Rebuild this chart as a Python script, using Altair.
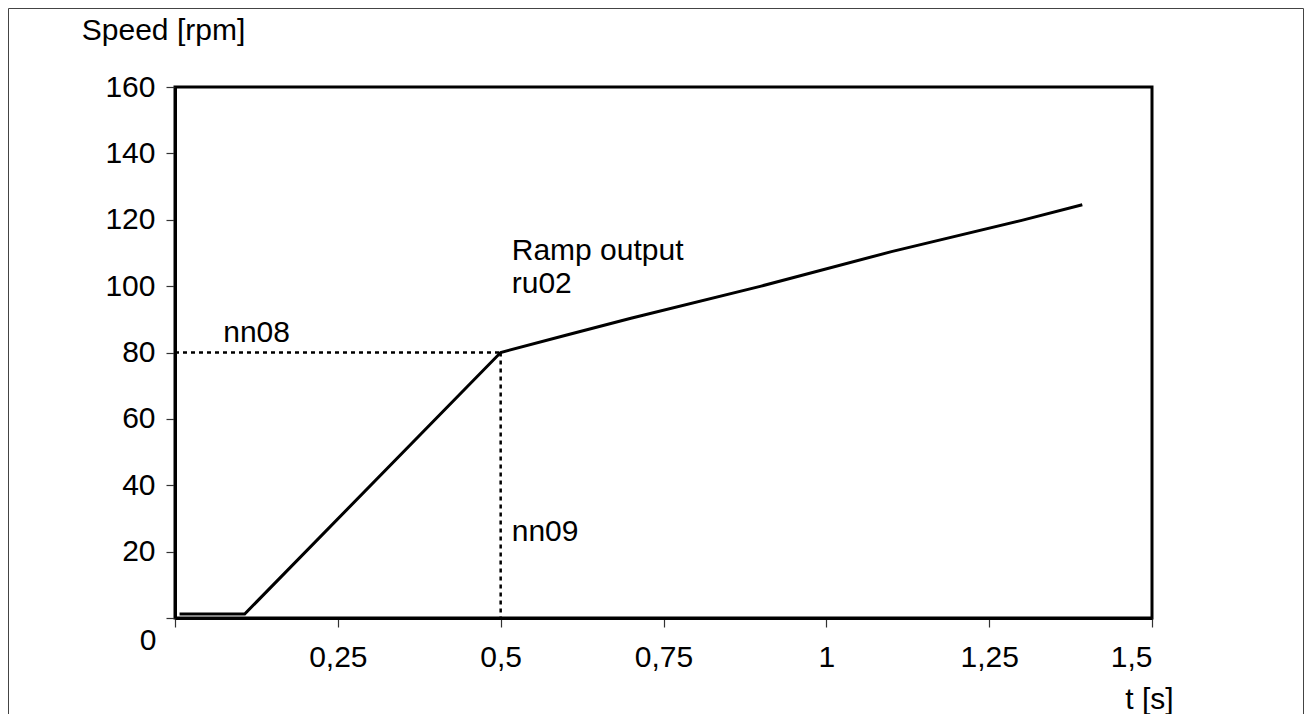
import altair as alt
import pandas as pd

# Ramp output ru02
t_vals = [0.007, 0.107, 0.5, 0.6, 0.7, 0.9, 1.1, 1.3, 1.393]
speed_vals = [1.2, 1.2, 80.0, 85.2, 90.3, 100.0, 110.4, 119.8, 124.5]

# dashed guide lines (nn08 / nn09)
guide_t = [0.0, 0.5, 0.5, 0.5]
guide_speed = [80.0, 80.0, 80.0, 0.0]
guide_id = ["h", "h", "v", "v"]

# annotations
ann_text = ["nn08", "nn09", "Ramp output", "ru02"]
ann_t = [0.074, 0.517, 0.517, 0.517]
ann_speed = [86.0, 25.8, 110.6, 100.6]

x_ticks = [0, 0.25, 0.5, 0.75, 1, 1.25, 1.5]
y_ticks = [0, 20, 40, 60, 80, 100, 120, 140, 160]

FONT = "Liberation Sans"
FS = 30
W, H = 977, 531

line_df = pd.DataFrame({"t": t_vals, "speed": speed_vals})
guide_df = pd.DataFrame({"t": guide_t, "speed": guide_speed, "g": guide_id})
ann_df = pd.DataFrame({"text": ann_text, "t": ann_t, "speed": ann_speed})
origin_df = pd.DataFrame({"t": [0.0], "speed": [0.0], "text": ["0"]})
frame_df = pd.DataFrame({"a": [0]})

xscale = alt.Scale(domain=[0, 1.5], nice=False, zero=False)
yscale = alt.Scale(domain=[0, 160], nice=False)

xaxis = alt.Axis(
    values=x_ticks, format="~g",
    labelExpr="datum.value == 0 ? '' : replace(datum.label, '.', ',')",
    title="t [s]", titleX=974, titleY=81, titleAlign="center", titleBaseline="middle",
    titleFont=FONT, titleFontSize=FS, titleFontWeight="normal", titleColor="black",
    labelFont=FONT, labelFontSize=FS, labelColor="black", labelPadding=15,
    labelBaseline="top",
    grid=False, domainColor="black", domainWidth=3, tickColor="#333", tickWidth=1.2, tickSize=9,
)
yaxis = alt.Axis(
    values=y_ticks,
    labelExpr="datum.value == 0 ? '' : datum.label",
    title="Speed [rpm]", titleAngle=0, titleX=-12, titleY=-57, titleAlign="center",
    titleBaseline="middle",
    titleFont=FONT, titleFontSize=FS, titleFontWeight="normal", titleColor="black",
    labelFont=FONT, labelFontSize=FS, labelColor="black", labelPadding=11,
    grid=False, domainColor="black", domainWidth=3, tickColor="#333", tickWidth=1.2, tickSize=9,
)

base_x = alt.X("t:Q", scale=xscale, axis=xaxis)
base_y = alt.Y("speed:Q", scale=yscale, axis=yaxis)

ramp = alt.Chart(line_df).mark_line(color="black", strokeWidth=3).encode(
    x=base_x, y=base_y, order="t:Q"
)

guides = alt.Chart(guide_df).mark_line(color="black", strokeWidth=2.5, strokeDash=[4, 4]).encode(
    x="t:Q", y="speed:Q", detail="g:N"
)

ann = alt.Chart(ann_df).mark_text(
    align="left", baseline="middle", font=FONT, fontSize=FS, color="black"
).encode(x="t:Q", y="speed:Q", text="text:N")

origin = alt.Chart(origin_df).mark_text(
    align="center", baseline="middle", font=FONT, fontSize=FS, color="black", dx=-27, dy=23
).encode(x="t:Q", y="speed:Q", text="text:N")

frame = alt.Chart(frame_df).mark_rect(fill=None, fillOpacity=0, stroke="#444", strokeWidth=1).encode(
    x=alt.value(-166.5), x2=alt.value(1128.5), y=alt.value(-78.5), y2=alt.value(700)
)

chart = alt.layer(frame, guides, ramp, ann, origin).properties(
    width=W, height=H,
    autosize=alt.AutoSizeParams(type="none"),
    padding={"left": 167, "top": 79, "right": 152, "bottom": 96},
    background="white",
).configure_view(stroke="black", strokeWidth=3)

chart.save("out.html", embed_options={"renderer": "svg", "actions": False})
